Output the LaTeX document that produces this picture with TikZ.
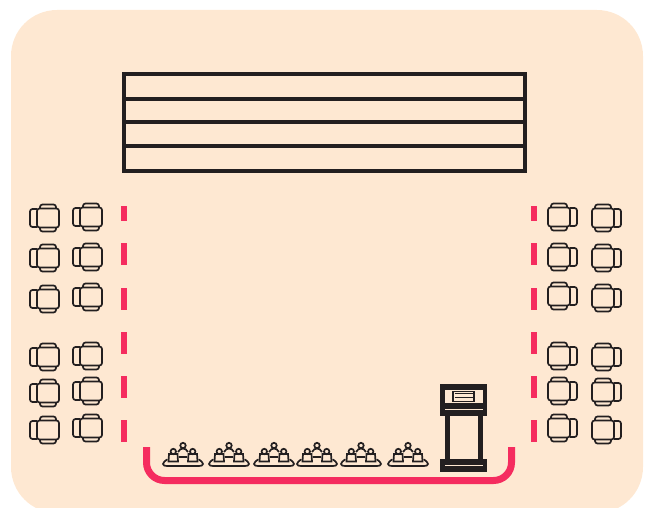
\documentclass[tikz,border=0pt]{standalone}
\usepackage{xcolor}
\definecolor{floorcolor}{HTML}{FEE8D2}
\definecolor{ropecolor}{HTML}{F52C5F}
\definecolor{inkcolor}{HTML}{231F20}
\tikzset{
  ink/.style={draw=inkcolor, line width=1.7pt},
  chair/.pic={
    \draw[ink, rounded corners=2.5pt] (-11,-9.5) rectangle (11,9.5);
    \draw[ink, rounded corners=2.5pt] (-11,-9) -- (-18,-9) -- (-18,9) -- (-11,9);
    \draw[ink, rounded corners=2.5pt] (-8,-9.5) -- (-8,-13.5) -- (8,-13.5) -- (8,-9.5);
    \draw[ink, rounded corners=2.5pt] (-8,9.5) -- (-8,13.5) -- (8,13.5) -- (8,9.5);
  },
  guests/.pic={
    \draw[ink, line cap=round] (-16,-6.5) .. controls (-18,-5) and (-20,-3.5) .. (-20,-2)
      .. controls (-20,-0.5) and (-18,0) .. (-16,0) -- (16,0)
      .. controls (18,0) and (20,-0.5) .. (20,-2)
      .. controls (20,-3.5) and (18,-5) .. (16,-6.5);
    \draw[ink] (-14.5,-4.5) -- (-5,-4.5) -- (-5.5,-12) -- (-14,-12) -- cycle;
    \draw[ink] (5,-4.5) -- (14.5,-4.5) -- (14,-12) -- (5.5,-12) -- cycle;
    \draw[ink] (-4,-9) -- (4,-9);
    \draw[ink] (-9.7,-14.5) circle (2.7pt);
    \draw[ink] (9.7,-14.5) circle (2.7pt);
    \draw[ink] (-5,-14) .. controls (-3.5,-16.5) and (-2,-17.5) .. (0,-17.5)
      .. controls (2,-17.5) and (3.5,-16.5) .. (5,-14);
    \draw[ink] (0,-20.5) circle (2.7pt);
  }
}
\begin{document}
\begin{tikzpicture}[
  x=1pt, y=-1pt,
  stage/.style={draw=inkcolor, line width=3.5pt},
  rope/.style={draw=ropecolor, line width=6pt},
  post/.style={fill=inkcolor}
]
  \useasboundingbox (0,0) rectangle (645,508);
  \clip (0,0) rectangle (645,508);
  \fill[floorcolor, rounded corners=46pt] (11,10) rectangle (643,513);

  % stage
  \draw[stage] (124,74) rectangle (525,171);
  \foreach \ypos in {99,122,146}
    \draw[stage] (124,\ypos) -- (525,\ypos);

  % seats on the left
  \foreach \ypos in {218,258,299,357,393,430}
    \pic at (48,\ypos) {chair};
  \foreach \ypos in {217,257,297,356,391,428}
    \pic at (91,\ypos) {chair};

  % seats on the right
  \foreach \ypos in {217,257,296,356,391,428}
    \pic[xscale=-1] at (559,\ypos) {chair};
  \foreach \ypos in {218,258,298,357,392,430}
    \pic[xscale=-1] at (603,\ypos) {chair};

  % barrier
  \foreach \xpos in {124,534} {
    \draw[rope] (\xpos,206) -- (\xpos,221);
    \foreach \ypos in {243,288,332,376,420}
      \draw[rope] (\xpos,\ypos) -- (\xpos,\ypos+22);
  }
  \draw[rope, line width=7pt, rounded corners=18pt] (146.5,447) -- (146.5,480.5) -- (511.5,480.5) -- (511.5,447);

  % guests at the front
  \foreach \xpos in {183,229,274,317,361,408}
    \pic at (\xpos,466) {guests};

  % lectern
  \fill[post] (440,384) rectangle (487,416);
  \fill[floorcolor] (445,390) rectangle (483,403);
  \fill[floorcolor] (445,408.5) rectangle (483,410);
  \fill[post] (445,416) rectangle (450,460);
  \fill[post] (478,416) rectangle (483,460);
  \fill[post] (440,459) rectangle (487,472);
  \fill[floorcolor] (445,464.5) rectangle (483,466);
  \draw[inkcolor, fill=floorcolor, line width=1.6pt] (453,391.5) rectangle (474,401.5);
  \draw[inkcolor, line width=1pt] (454.5,393.5) -- (472.5,393.5);
  \draw[inkcolor, line width=1pt] (454.5,397) -- (472.5,397);
\end{tikzpicture}
\end{document}
